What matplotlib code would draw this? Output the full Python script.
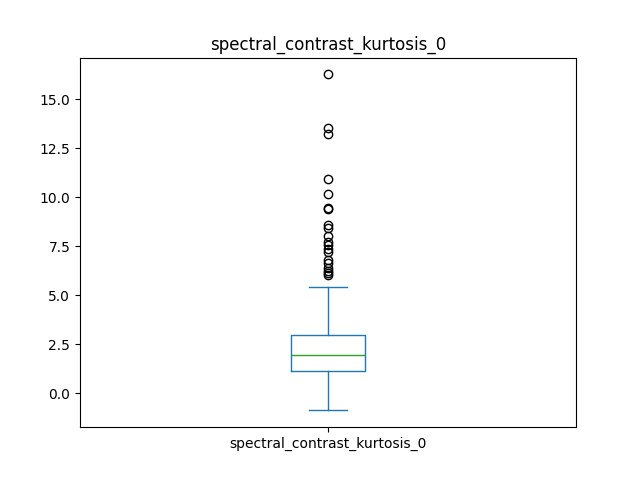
import matplotlib
matplotlib.use("Agg")
import matplotlib.pyplot as plt

label = "spectral_contrast_kurtosis_0"

# box statistics
q1 = 1.12
median = 1.94
q3 = 2.96
whislo = -0.87
whishi = 5.41
fliers = [16.28, 13.55, 13.25, 10.92, 10.20, 9.44, 9.39, 8.57, 8.45, 8.01,
          7.72, 7.55, 7.38, 7.22, 6.80, 6.65, 6.40, 6.25, 6.15, 6.05]

stats = [{
    "label": label,
    "q1": q1, "med": median, "q3": q3,
    "whislo": whislo, "whishi": whishi,
    "fliers": fliers,
}]

fig, ax = plt.subplots(figsize=(6.4, 4.8), dpi=100)
ax.bxp(stats,
       boxprops=dict(color="#1f77b4"),
       whiskerprops=dict(color="#1f77b4"),
       capprops=dict(color="#1f77b4"),
       medianprops=dict(color="#2ca02c"),
       flierprops=dict(marker="o", markeredgecolor="black"))
ax.set_title(label)
ax.set_yticks([0.0, 2.5, 5.0, 7.5, 10.0, 12.5, 15.0])

plt.savefig("out.png")
